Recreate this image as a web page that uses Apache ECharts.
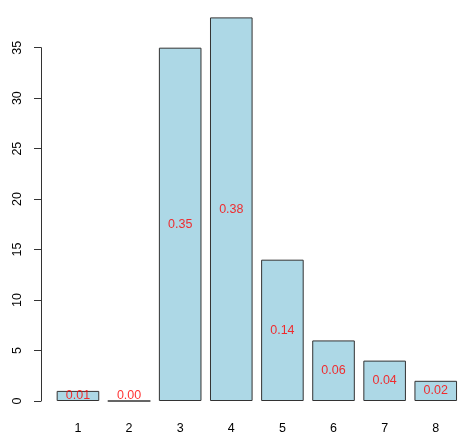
<!DOCTYPE html>
<html>
<head>
<meta charset="utf-8">
<script src="https://cdn.jsdelivr.net/npm/echarts@6/dist/echarts.min.js"></script>
<style>
html,body{margin:0;padding:0;background:#fff;}
#chart{width:475px;height:443px;}
</style>
</head>
<body>
<div id="chart"></div>
<script>
var categories = ['1', '2', '3', '4', '5', '6', '7', '8'];
var counts = [1, 0, 35, 38, 14, 6, 4, 2];
var proportions = ['0.01', '0.00', '0.35', '0.38', '0.14', '0.06', '0.04', '0.02'];
var yTickMax = 35;
var yDataMax = 38;

var FONT = 'Liberation Sans, Arial, Helvetica, sans-serif';
var chart = echarts.init(document.getElementById('chart'), null, {renderer: 'canvas'});

var labelPoints = counts.map(function (v, i) {
  return {value: [i, Math.max(v / 2, 0.5)], name: proportions[i]};
});

chart.setOption({
  animation: false,
  backgroundColor: '#ffffff',
  grid: [
    {left: 52.4, right: 13.7, top: 17.4, bottom: 42},
    {left: 41, right: 13.7, top: 47.7, bottom: 42}
  ],
  xAxis: [
    {
      type: 'category', gridIndex: 0, data: categories,
      axisLine: {show: false}, axisTick: {show: false},
      axisLabel: {color: '#000', fontFamily: FONT, fontSize: 12.5, margin: 21}
    },
    {type: 'value', gridIndex: 1, min: 0, max: 1, show: false}
  ],
  yAxis: [
    {type: 'value', gridIndex: 0, min: 0, max: yDataMax, show: false},
    {
      type: 'value', gridIndex: 1, min: 0, max: yTickMax, interval: 5,
      axisLine: {show: true, lineStyle: {color: '#333', width: 1}},
      axisTick: {show: true, length: 7, lineStyle: {color: '#333', width: 1}},
      splitLine: {show: false},
      axisLabel: {color: '#000', fontFamily: FONT, fontSize: 12.5, rotate: 90, margin: 17}
    }
  ],
  series: [
    {
      type: 'bar', xAxisIndex: 0, yAxisIndex: 0,
      data: counts,
      barWidth: '83.33%',
      itemStyle: {color: '#ADD8E6', borderColor: '#333', borderWidth: 1}
    },
    {
      type: 'scatter', xAxisIndex: 0, yAxisIndex: 0,
      data: labelPoints,
      symbolSize: 2,
      itemStyle: {color: 'rgba(0,0,0,0)'},
      label: {
        show: true, position: 'inside',
        formatter: '{b}',
        color: '#FF0000', fontFamily: FONT, fontSize: 12.5
      },
      z: 5
    }
  ]
});
</script>
</body>
</html>
